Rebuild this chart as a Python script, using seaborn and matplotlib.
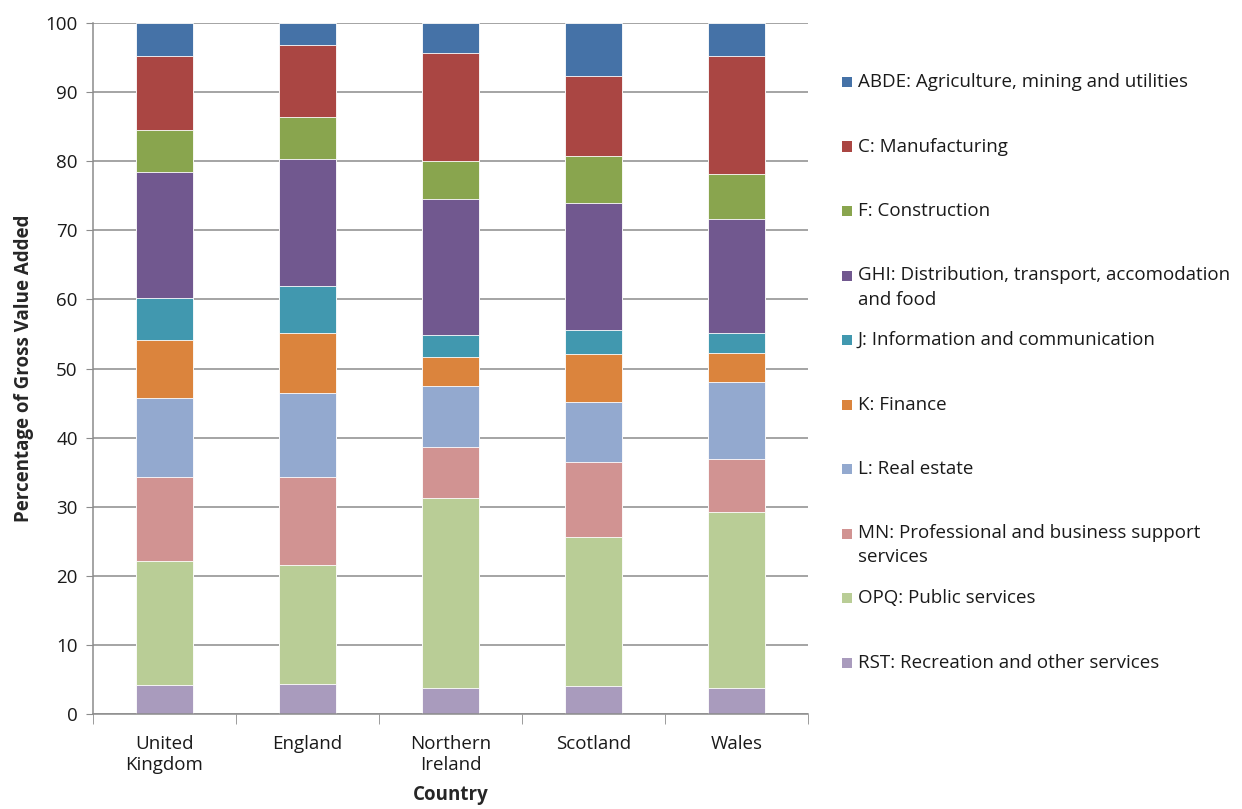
import matplotlib
matplotlib.use("Agg")
import matplotlib.pyplot as plt
import seaborn as sns
import numpy as np
import pandas as pd
from matplotlib.patches import Rectangle

countries = ["United\nKingdom", "England", "Northern\nIreland", "Scotland", "Wales"]

# segments from bottom to top
sectors = [
    "RST: Recreation and other services",
    "OPQ: Public services",
    "MN: Professional and business support\nservices",
    "L: Real estate",
    "K: Finance",
    "J: Information and communication",
    "GHI: Distribution, transport, accomodation\nand food",
    "F: Construction",
    "C: Manufacturing",
    "ABDE: Agriculture, mining and utilities",
]
colors = ["#A99BBD", "#B9CD96", "#D19392", "#93A9CF", "#DB843D",
          "#4198AF", "#71588F", "#89A54E", "#AA4643", "#4572A7"]

rst = [4.2, 4.3, 3.8, 4.0, 3.8]
opq = [17.9, 17.25, 27.4, 21.6, 25.5]
mn = [12.15, 12.7, 7.4, 10.8, 7.6]
l_re = [11.55, 12.15, 8.8, 8.7, 11.1]
k_fin = [8.3, 8.7, 4.3, 7.0, 4.3]
j_info = [6.15, 6.8, 3.2, 3.4, 2.9]
ghi = [18.15, 18.4, 19.7, 18.4, 16.4]
f_con = [6.1, 6.1, 5.5, 6.9, 6.5]
c_man = [10.7, 10.4, 15.6, 11.6, 17.1]
abde = [4.8, 3.2, 4.3, 7.6, 4.8]

series = [rst, opq, mn, l_re, k_fin, j_info, ghi, f_con, c_man, abde]

sns.set_style("white")
plt.rcParams["font.family"] = ["Open Sans", "DejaVu Sans"]
FS = 13.5

fig = plt.figure(figsize=(12.42, 8.09), dpi=100)
ax = fig.add_axes([93/1242, 1 - 714/809, (808-93)/1242, (714-23)/809])

cum = np.cumsum(np.array(series), axis=0)
# draw from top (largest cumulative) downwards
for i in range(len(series) - 1, -1, -1):
    df = pd.DataFrame({"country": countries, "value": cum[i]})
    sns.barplot(data=df, x="country", y="value", color=colors[i], saturation=1,
                width=0.4, ax=ax, edgecolor="#ffffff", linewidth=0.6)

ax.set_ylim(0, 100)
ax.set_xlim(-0.5, 4.5)
ax.set_yticks(np.arange(0, 101, 10))
ax.yaxis.grid(True, color="#8c8c8c", linewidth=1.1)
ax.set_axisbelow(True)
for s in ["top", "right"]:
    ax.spines[s].set_visible(False)
for s in ["left", "bottom"]:
    ax.spines[s].set_color("#8c8c8c")
    ax.spines[s].set_linewidth(1.1)

ax.tick_params(axis="y", which="major", direction="out", length=5, color="#8c8c8c",
               labelsize=FS, pad=6, left=True, labelcolor="#1a1a1a")
ax.tick_params(axis="x", which="major", length=0, labelsize=FS, pad=15, labelcolor="#1a1a1a")
ax.set_xticks(np.arange(-0.5, 4.6, 1), minor=True)
ax.tick_params(axis="x", which="minor", direction="out", length=7, color="#8c8c8c", bottom=True)

ax.set_ylabel("Percentage of Gross Value Added", fontsize=FS, fontweight="bold", labelpad=8)
ax.set_xlabel("Country", fontsize=FS, fontweight="bold", labelpad=8)

# legend (top to bottom)
W, H = 1242, 809
y0 = 82
step = 64.5
for k, idx in enumerate(range(len(sectors) - 1, -1, -1)):
    yc = y0 + k * step
    fig.patches.append(Rectangle((842 / W, 1 - (yc + 5) / H), 10 / W, 10 / H,
                                 transform=fig.transFigure, facecolor=colors[idx],
                                 edgecolor="none"))
    for j, line in enumerate(sectors[idx].split("\n")):
        fig.text(858 / W, 1 - (yc + j * 24) / H, line, fontsize=FS,
                 va="center", ha="left", color="#1a1a1a")

fig.savefig("out.png", dpi=100)
